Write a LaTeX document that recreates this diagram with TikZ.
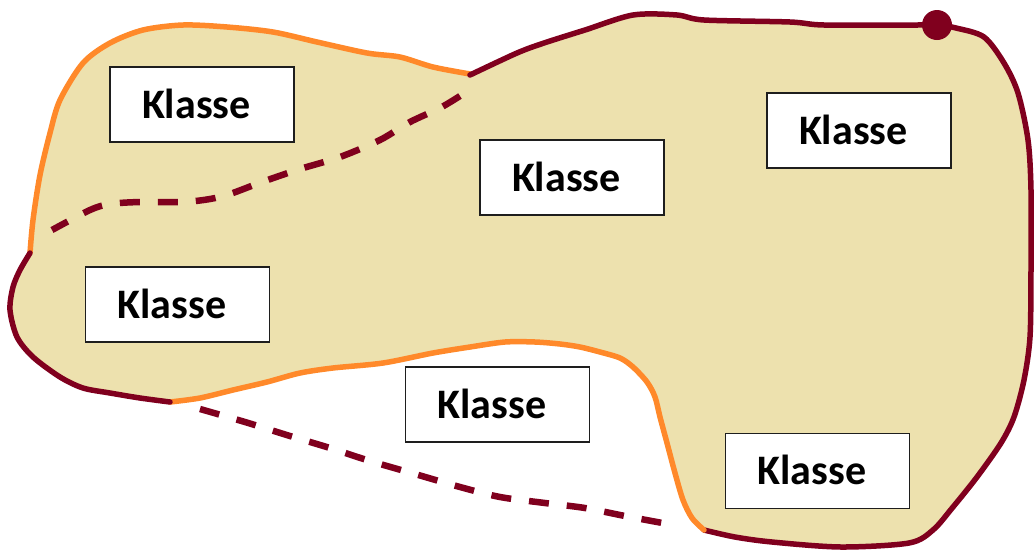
\documentclass[tikz,border=0pt]{standalone}
\usepackage{fontspec}
\setmainfont{Carlito}
\begin{document}
\begin{tikzpicture}[x=1pt,y=-1pt,
  blobfill/.style={fill=tan},
  redline/.style={draw=wine,line width=5.5pt,line join=round,line cap=round},
  orangeline/.style={draw=amber,line width=5.5pt,line join=round,line cap=round},
  dashline/.style={draw=wine,line width=6.5pt,dash pattern=on 20pt off 18pt},
  klasse/.style={draw=boxline,line width=1.5pt,fill=white,minimum width=184pt,
    minimum height=75pt,inner xsep=0pt,inner ysep=0pt,text width=184pt,align=left,
    text height=27pt,text depth=0pt,font=\fontsize{42}{50}\selectfont\bfseries,
    execute at begin node={\hspace*{32pt}}},
  % outline pieces, each one continuing from the previous end point
  seg top left/.style={insert path={-- plot[smooth] coordinates {
    (30,253) (33,220) (40,175) (50,133) (60,100) (83,63) (110,43) (143,30)
    (183,25) (227,27) (273,32) (317,42) (367,53) (400,57) (433,67) (470,74)}}},
  seg right/.style={insert path={-- plot[smooth] coordinates {
    (470,75) (517,53) (544,43) (585,30) (633,15) (677,15) (704,20) (790,22)
    (824,25) (915,25) (938,25) (956,28) (984,37) (1004,63) (1018,93)
    (1028,140) (1031,190) (1031,270) (1030,337) (1024,380) (1014,417)
    (1001,443) (977,477) (953,507) (933,530) (909,543) (841,547) (772,542)
    (735,537) (704,530)}}},
  seg bottom/.style={insert path={-- plot[smooth] coordinates {
    (704,530) (692,518) (683,500) (675,473) (667,443) (660,417) (655,397)
    (647,382) (633,367) (620,358) (600,352) (580,347) (560,344) (535,342)
    (505,342) (470,347) (433,353) (383,363) (333,368) (300,373) (267,382)
    (233,390) (200,398) (170,402)}}},
  seg left/.style={insert path={-- plot[smooth] coordinates {
    (170,402) (140,398) (110,393) (83,388) (60,377) (33,357) (17,337)
    (10,310) (13,287) (20,270) (30,253)}}}
]
\definecolor{tan}{RGB}{237,225,174}
\definecolor{wine}{RGB}{128,0,30}
\definecolor{amber}{RGB}{255,137,42}
\definecolor{boxline}{RGB}{30,30,30}

\useasboundingbox (0,0) rectangle (1034,550);

% filled region
\fill[blobfill] (30,253) [seg top left] [seg right] [seg bottom] [seg left] -- cycle;

% boundary strokes
\draw[orangeline] (30,253) [seg top left];
\draw[redline] (470,75) [seg right];
\draw[orangeline] (704,530) [seg bottom];
\draw[redline] (170,402) [seg left];

% dashed borders
\draw[dashline] plot[smooth] coordinates {
  (460,96) (440,108) (410,122) (380,140) (340,157) (300,169) (262,182)
  (230,194) (210,199) (183,202) (140,202) (110,204) (90,210) (52,230)};
\draw[dashline] plot[smooth] coordinates {
  (200,409) (245,422) (290,436) (330,448) (370,461) (415,474) (460,487)
  (500,497) (545,503) (585,508) (625,516) (668,524)};

% corner marker
\fill[wine] (937,25) circle (15);

% classes
\node[klasse] (k1) at (202,104.5) {Klasse};
\node[klasse] (k2) at (572,177.5) {Klasse};
\node[klasse] (k3) at (859,130.5) {Klasse};
\node[klasse] (k4) at (177.5,304.5) {Klasse};
\node[klasse] (k5) at (497.5,404.5) {Klasse};
\node[klasse] (k6) at (817.5,471) {Klasse};
\end{tikzpicture}
\end{document}
